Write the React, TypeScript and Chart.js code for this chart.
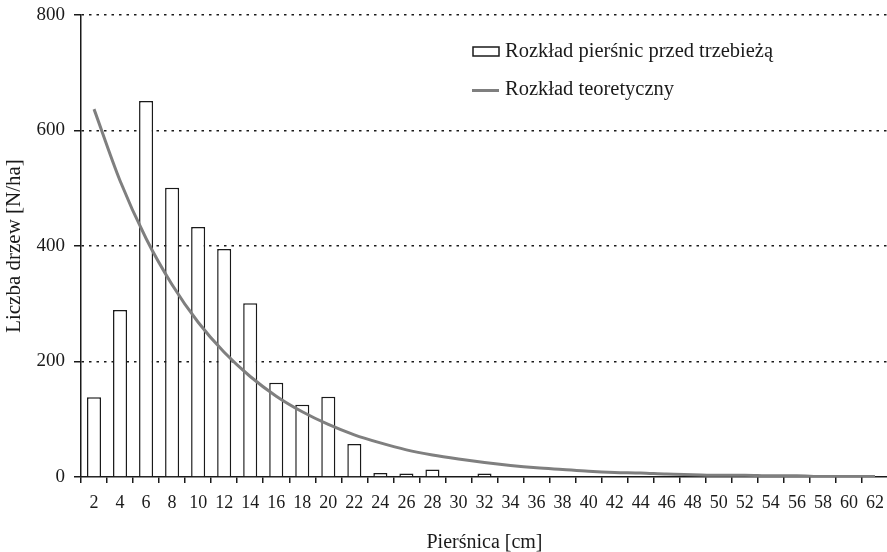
import React, { useEffect, useRef } from "react";
import { Chart, registerables } from "chart.js";

Chart.register(...registerables);

const diameterClasses: string[] = [
  "2", "4", "6", "8", "10", "12", "14", "16", "18", "20", "22", "24", "26", "28", "30", "32",
  "34", "36", "38", "40", "42", "44", "46", "48", "50", "52", "54", "56", "58", "60", "62",
];

const observedLabel = "Rozkład pierśnic przed trzebieżą";
const observedValues: number[] = [
  138, 289, 651, 501, 433, 395, 301, 163, 125, 139, 57, 7, 6, 13, 0, 6,
  0, 0, 0, 0, 0, 0, 0, 0, 0, 0, 0, 0, 0, 0, 0,
];

const theoreticalLabel = "Rozkład teoretyczny";
const theoreticalValues: number[] = [
  637, 513, 413, 333, 268, 216, 174, 140, 113, 91, 73, 59, 47, 38, 31, 25,
  20, 16, 13, 10, 8, 7, 5, 4, 3, 3, 2, 2, 1, 1, 1,
];

const yTicks: number[] = [0, 200, 400, 600, 800];
const yTitle = "Liczba drzew [N/ha]";
const xTitle = "Pierśnica [cm]";

const FONT = "'Liberation Serif', 'Times New Roman', serif";
const TEXT = "#1a1a1a";

const legendPlugin = {
  id: "insideLegend",
  afterDraw(chart: any) {
    const ctx = chart.ctx;
    const ds = chart.data.datasets;
    ctx.save();
    ctx.font = `20.5px ${FONT}`;
    ctx.textBaseline = "middle";
    ctx.textAlign = "left";
    // bar entry
    ctx.fillStyle = "#ffffff";
    ctx.fillRect(473, 47, 26, 9);
    ctx.strokeStyle = "#1a1a1a";
    ctx.lineWidth = 1.5;
    ctx.strokeRect(473, 47, 26, 9);
    ctx.fillStyle = TEXT;
    ctx.fillText(ds[0].label, 505, 52);
    // line entry
    ctx.strokeStyle = "#7f7f7f";
    ctx.lineWidth = 3;
    ctx.beginPath();
    ctx.moveTo(472, 90.5);
    ctx.lineTo(499, 90.5);
    ctx.stroke();
    ctx.fillText(ds[1].label, 505, 90);
    ctx.restore();
  },
};

export default function App() {
  const ref = useRef<HTMLCanvasElement | null>(null);

  useEffect(() => {
    if (!ref.current) return;
    const chart = new Chart(ref.current, {
      data: {
        labels: diameterClasses,
        datasets: [
          {
            type: "bar",
            label: observedLabel,
            data: observedValues,
            backgroundColor: "#ffffff",
            borderColor: "#1a1a1a",
            borderWidth: 1.5,
            categoryPercentage: 1,
            barPercentage: 0.54,
            order: 2,
          },
          {
            type: "line",
            label: theoreticalLabel,
            data: theoreticalValues,
            borderColor: "#7f7f7f",
            borderWidth: 3,
            pointRadius: 0,
            tension: 0.4,
            cubicInterpolationMode: "monotone",
            fill: false,
            order: 1,
          },
        ],
      } as any,
      options: {
        animation: false,
        responsive: true,
        maintainAspectRatio: false,
        layout: { padding: { top: 15, right: 0, bottom: 0, left: 0 } },
        plugins: {
          legend: { display: false },
          tooltip: { enabled: false },
        },
        scales: {
          x: {
            offset: true,
            grid: {
              display: true,
              offset: true,
              drawOnChartArea: false,
              drawTicks: true,
              tickLength: 6,
              color: "#1a1a1a",
              lineWidth: 1.5,
            },
            border: { display: true, color: "#1a1a1a", width: 1.5 },
            ticks: {
              color: TEXT,
              font: { family: FONT, size: 18 },
              padding: 9,
              maxRotation: 0,
              autoSkip: false,
            },
            title: {
              display: true,
              text: xTitle,
              color: TEXT,
              font: { family: FONT, size: 20 },
              padding: { top: 0, bottom: -3 },
            },
            afterFit(scale: any) {
              scale.height = 75;
              scale.paddingLeft = 0;
              scale.paddingRight = 0;
            },
          },
          y: {
            min: 0,
            max: 800,
            afterBuildTicks(scale: any) {
              scale.ticks = yTicks.map((v) => ({ value: v }));
            },
            grid: {
              color: (c: any) => (c.tick && c.tick.value === 0 ? "rgba(0,0,0,0)" : "#1a1a1a"),
              lineWidth: 1.5,
              tickBorderDash: [],
              tickColor: "#1a1a1a",
              tickWidth: 1.5,
              tickLength: 7,
              drawTicks: true,
            },
            border: { display: true, color: "#1a1a1a", width: 1.5, dash: [2.5, 5] },
            ticks: {
              color: TEXT,
              font: { family: FONT, size: 19 },
              padding: 9,
            },
            title: {
              display: true,
              text: yTitle,
              color: TEXT,
              font: { family: FONT, size: 21 },
              padding: { top: 2, bottom: 0 },
            },
            afterFit(scale: any) {
              scale.width = 81;
              scale.paddingTop = 0;
              scale.paddingBottom = 0;
            },
          },
        },
      },
      plugins: [legendPlugin],
    });
    return () => chart.destroy();
  }, []);

  return (
    <div
      style={{
        position: "fixed",
        left: 0,
        top: 0,
        width: 887,
        height: 552,
        overflow: "hidden",
        background: "#ffffff",
      }}
    >
      <div style={{ position: "relative", width: 888, height: 552 }}>
        <canvas ref={ref} />
      </div>
    </div>
  );
}
